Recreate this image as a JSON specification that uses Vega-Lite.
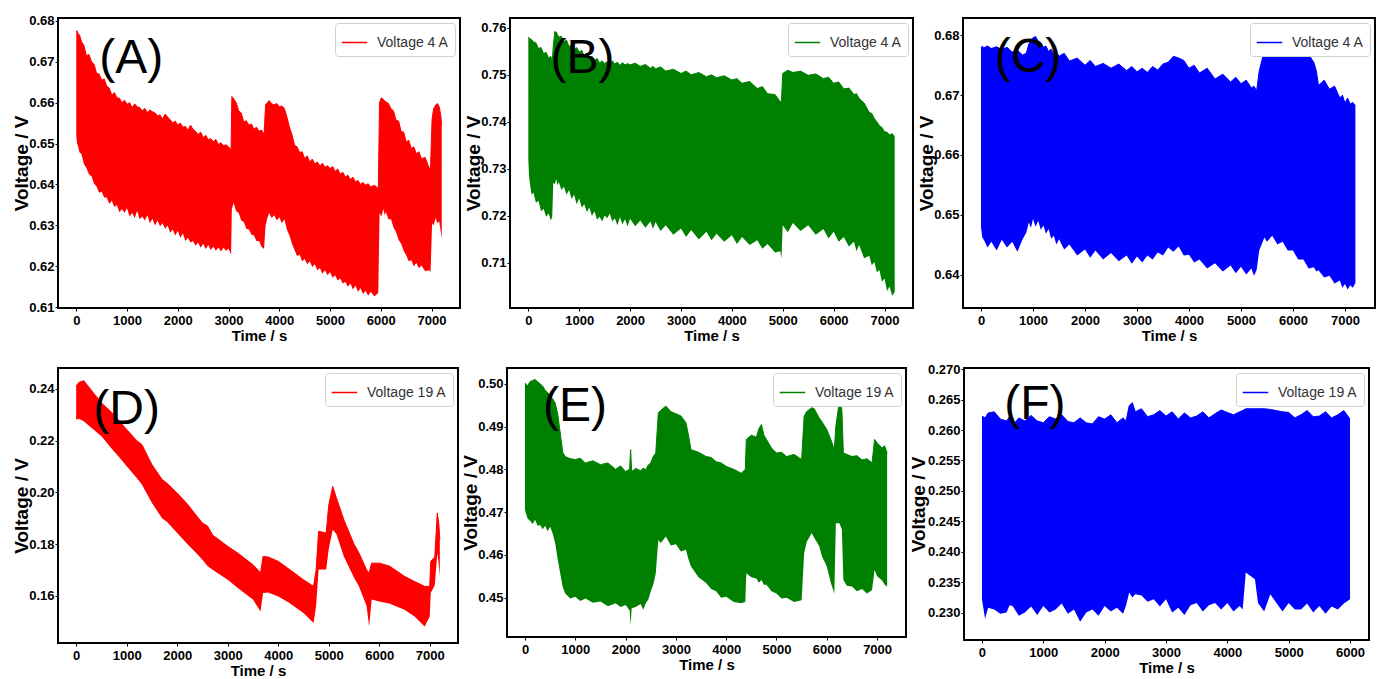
{
"$schema": "https://vega.github.io/schema/vega-lite/v6.json",
"background": "white",
"padding": {"left": 11, "top": 13, "right": 0, "bottom": 0},
"datasets": {
"A": [
{"t":0,"hi":0.6774,"lo":0.6520},{"t":15,"hi":0.6776,"lo":0.6500},{"t":30,"hi":0.6770,"lo":0.6495},{"t":65,"hi":0.6765,"lo":0.6478},{"t":100,"hi":0.6750,"lo":0.6475},{"t":150,"hi":0.6740,"lo":0.6450},{"t":200,"hi":0.6715,"lo":0.6440},{"t":250,"hi":0.6718,"lo":0.6425},{"t":300,"hi":0.6700,"lo":0.6420},{"t":350,"hi":0.6694,"lo":0.6402},{"t":400,"hi":0.6672,"lo":0.6395},{"t":450,"hi":0.6670,"lo":0.6380},{"t":500,"hi":0.6655,"lo":0.6382},{"t":550,"hi":0.6658,"lo":0.6368},{"t":600,"hi":0.6640,"lo":0.6368},{"t":650,"hi":0.6636,"lo":0.6352},{"t":700,"hi":0.6618,"lo":0.6360},{"t":750,"hi":0.6625,"lo":0.6345},{"t":800,"hi":0.6612,"lo":0.6350},{"t":850,"hi":0.6611,"lo":0.6332},{"t":900,"hi":0.6600,"lo":0.6340},{"t":950,"hi":0.6606,"lo":0.6330},{"t":1000,"hi":0.6596,"lo":0.6342},{"t":1050,"hi":0.6600,"lo":0.6322},{"t":1100,"hi":0.6588,"lo":0.6330},{"t":1150,"hi":0.6597,"lo":0.6318},{"t":1200,"hi":0.6590,"lo":0.6335},{"t":1250,"hi":0.6588,"lo":0.6315},{"t":1300,"hi":0.6580,"lo":0.6322},{"t":1350,"hi":0.6586,"lo":0.6312},{"t":1400,"hi":0.6576,"lo":0.6325},{"t":1450,"hi":0.6582,"lo":0.6305},{"t":1500,"hi":0.6578,"lo":0.6316},{"t":1550,"hi":0.6575,"lo":0.6300},{"t":1600,"hi":0.6568,"lo":0.6312},{"t":1650,"hi":0.6570,"lo":0.6298},{"t":1700,"hi":0.6560,"lo":0.6305},{"t":1750,"hi":0.6572,"lo":0.6292},{"t":1800,"hi":0.6565,"lo":0.6300},{"t":1850,"hi":0.6558,"lo":0.6282},{"t":1900,"hi":0.6550,"lo":0.6290},{"t":1950,"hi":0.6555,"lo":0.6275},{"t":2000,"hi":0.6545,"lo":0.6287},{"t":2050,"hi":0.6550,"lo":0.6270},{"t":2100,"hi":0.6540,"lo":0.6280},{"t":2150,"hi":0.6542,"lo":0.6262},{"t":2200,"hi":0.6532,"lo":0.6270},{"t":2250,"hi":0.6545,"lo":0.6258},{"t":2300,"hi":0.6535,"lo":0.6262},{"t":2350,"hi":0.6530,"lo":0.6250},{"t":2400,"hi":0.6522,"lo":0.6258},{"t":2450,"hi":0.6528,"lo":0.6245},{"t":2500,"hi":0.6515,"lo":0.6255},{"t":2550,"hi":0.6520,"lo":0.6242},{"t":2600,"hi":0.6510,"lo":0.6252},{"t":2650,"hi":0.6512,"lo":0.6240},{"t":2700,"hi":0.6505,"lo":0.6248},{"t":2750,"hi":0.6510,"lo":0.6238},{"t":2800,"hi":0.6498,"lo":0.6246},{"t":2850,"hi":0.6502,"lo":0.6236},{"t":2900,"hi":0.6495,"lo":0.6245},{"t":2950,"hi":0.6497,"lo":0.6238},{"t":3000,"hi":0.6492,"lo":0.6243},{"t":3050,"hi":0.6485,"lo":0.6228},{"t":3065,"hi":0.6615,"lo":0.6340},{"t":3100,"hi":0.6610,"lo":0.6355},{"t":3150,"hi":0.6600,"lo":0.6335},{"t":3200,"hi":0.6580,"lo":0.6330},{"t":3250,"hi":0.6575,"lo":0.6312},{"t":3300,"hi":0.6553,"lo":0.6308},{"t":3350,"hi":0.6556,"lo":0.6292},{"t":3400,"hi":0.6545,"lo":0.6290},{"t":3450,"hi":0.6548,"lo":0.6278},{"t":3500,"hi":0.6535,"lo":0.6275},{"t":3550,"hi":0.6540,"lo":0.6262},{"t":3600,"hi":0.6530,"lo":0.6262},{"t":3650,"hi":0.6533,"lo":0.6248},{"t":3700,"hi":0.6522,"lo":0.6242},{"t":3730,"hi":0.6595,"lo":0.6300},{"t":3765,"hi":0.6600,"lo":0.6318},{"t":3800,"hi":0.6605,"lo":0.6330},{"t":3850,"hi":0.6597,"lo":0.6318},{"t":3900,"hi":0.6595,"lo":0.6325},{"t":3950,"hi":0.6598,"lo":0.6312},{"t":4000,"hi":0.6590,"lo":0.6320},{"t":4050,"hi":0.6592,"lo":0.6305},{"t":4100,"hi":0.6586,"lo":0.6315},{"t":4150,"hi":0.6565,"lo":0.6290},{"t":4200,"hi":0.6540,"lo":0.6275},{"t":4250,"hi":0.6522,"lo":0.6255},{"t":4300,"hi":0.6496,"lo":0.6240},{"t":4350,"hi":0.6492,"lo":0.6225},{"t":4400,"hi":0.6478,"lo":0.6228},{"t":4450,"hi":0.6480,"lo":0.6212},{"t":4500,"hi":0.6463,"lo":0.6218},{"t":4550,"hi":0.6470,"lo":0.6205},{"t":4600,"hi":0.6455,"lo":0.6212},{"t":4650,"hi":0.6462,"lo":0.6198},{"t":4700,"hi":0.6450,"lo":0.6205},{"t":4750,"hi":0.6455,"lo":0.6190},{"t":4800,"hi":0.6445,"lo":0.6196},{"t":4850,"hi":0.6452,"lo":0.6182},{"t":4900,"hi":0.6442,"lo":0.6190},{"t":4950,"hi":0.6446,"lo":0.6178},{"t":5000,"hi":0.6439,"lo":0.6186},{"t":5050,"hi":0.6444,"lo":0.6172},{"t":5100,"hi":0.6432,"lo":0.6178},{"t":5150,"hi":0.6438,"lo":0.6165},{"t":5200,"hi":0.6425,"lo":0.6170},{"t":5250,"hi":0.6430,"lo":0.6158},{"t":5300,"hi":0.6418,"lo":0.6162},{"t":5350,"hi":0.6423,"lo":0.6150},{"t":5400,"hi":0.6412,"lo":0.6158},{"t":5450,"hi":0.6418,"lo":0.6143},{"t":5500,"hi":0.6406,"lo":0.6153},{"t":5550,"hi":0.6410,"lo":0.6138},{"t":5600,"hi":0.6400,"lo":0.6146},{"t":5650,"hi":0.6405,"lo":0.6132},{"t":5700,"hi":0.6398,"lo":0.6140},{"t":5750,"hi":0.6402,"lo":0.6128},{"t":5800,"hi":0.6394,"lo":0.6138},{"t":5875,"hi":0.6398,"lo":0.6126},{"t":5950,"hi":0.6390,"lo":0.6135},{"t":5975,"hi":0.6600,"lo":0.6330},{"t":6010,"hi":0.6612,"lo":0.6322},{"t":6050,"hi":0.6608,"lo":0.6340},{"t":6075,"hi":0.6604,"lo":0.6325},{"t":6100,"hi":0.6602,"lo":0.6333},{"t":6150,"hi":0.6598,"lo":0.6315},{"t":6200,"hi":0.6585,"lo":0.6315},{"t":6250,"hi":0.6580,"lo":0.6295},{"t":6300,"hi":0.6557,"lo":0.6284},{"t":6350,"hi":0.6555,"lo":0.6265},{"t":6400,"hi":0.6530,"lo":0.6255},{"t":6450,"hi":0.6528,"lo":0.6238},{"t":6500,"hi":0.6504,"lo":0.6227},{"t":6550,"hi":0.6508,"lo":0.6212},{"t":6600,"hi":0.6488,"lo":0.6215},{"t":6650,"hi":0.6492,"lo":0.6200},{"t":6700,"hi":0.6475,"lo":0.6208},{"t":6750,"hi":0.6480,"lo":0.6195},{"t":6800,"hi":0.6463,"lo":0.6202},{"t":6875,"hi":0.6466,"lo":0.6188},{"t":6950,"hi":0.6440,"lo":0.6190},{"t":6980,"hi":0.6442,"lo":0.6186},{"t":7010,"hi":0.6560,"lo":0.6305},{"t":7040,"hi":0.6585,"lo":0.6300},{"t":7080,"hi":0.6594,"lo":0.6318},{"t":7115,"hi":0.6598,"lo":0.6305},{"t":7150,"hi":0.6590,"lo":0.6310},{"t":7180,"hi":0.6570,"lo":0.6285},{"t":7200,"hi":0.6545,"lo":0.6267}
],
"B": [
{"t":0,"hi":0.7581,"lo":0.7320},{"t":15,"hi":0.7578,"lo":0.7285},{"t":30,"hi":0.7577,"lo":0.7270},{"t":65,"hi":0.7575,"lo":0.7245},{"t":100,"hi":0.7570,"lo":0.7250},{"t":150,"hi":0.7568,"lo":0.7228},{"t":200,"hi":0.7556,"lo":0.7232},{"t":250,"hi":0.7558,"lo":0.7210},{"t":300,"hi":0.7545,"lo":0.7215},{"t":350,"hi":0.7548,"lo":0.7198},{"t":400,"hi":0.7535,"lo":0.7205},{"t":440,"hi":0.7540,"lo":0.7190},{"t":470,"hi":0.7528,"lo":0.7198},{"t":490,"hi":0.7560,"lo":0.7270},{"t":520,"hi":0.7592,"lo":0.7268},{"t":550,"hi":0.7591,"lo":0.7278},{"t":575,"hi":0.7585,"lo":0.7265},{"t":600,"hi":0.7580,"lo":0.7272},{"t":650,"hi":0.7582,"lo":0.7255},{"t":700,"hi":0.7570,"lo":0.7262},{"t":750,"hi":0.7574,"lo":0.7245},{"t":800,"hi":0.7560,"lo":0.7255},{"t":850,"hi":0.7565,"lo":0.7236},{"t":900,"hi":0.7553,"lo":0.7245},{"t":950,"hi":0.7558,"lo":0.7225},{"t":1000,"hi":0.7549,"lo":0.7237},{"t":1050,"hi":0.7552,"lo":0.7218},{"t":1100,"hi":0.7540,"lo":0.7225},{"t":1150,"hi":0.7546,"lo":0.7208},{"t":1200,"hi":0.7535,"lo":0.7218},{"t":1250,"hi":0.7540,"lo":0.7200},{"t":1300,"hi":0.7530,"lo":0.7210},{"t":1350,"hi":0.7535,"lo":0.7192},{"t":1400,"hi":0.7525,"lo":0.7198},{"t":1450,"hi":0.7530,"lo":0.7188},{"t":1500,"hi":0.7524,"lo":0.7201},{"t":1550,"hi":0.7528,"lo":0.7195},{"t":1600,"hi":0.7522,"lo":0.7205},{"t":1650,"hi":0.7530,"lo":0.7188},{"t":1700,"hi":0.7523,"lo":0.7195},{"t":1750,"hi":0.7527,"lo":0.7180},{"t":1800,"hi":0.7520,"lo":0.7197},{"t":1850,"hi":0.7526,"lo":0.7182},{"t":1900,"hi":0.7521,"lo":0.7193},{"t":1950,"hi":0.7524,"lo":0.7178},{"t":2000,"hi":0.7521,"lo":0.7194},{"t":2100,"hi":0.7525,"lo":0.7178},{"t":2200,"hi":0.7518,"lo":0.7190},{"t":2300,"hi":0.7522,"lo":0.7175},{"t":2400,"hi":0.7514,"lo":0.7188},{"t":2450,"hi":0.7518,"lo":0.7172},{"t":2500,"hi":0.7513,"lo":0.7187},{"t":2600,"hi":0.7517,"lo":0.7168},{"t":2700,"hi":0.7508,"lo":0.7180},{"t":2850,"hi":0.7512,"lo":0.7160},{"t":3000,"hi":0.7503,"lo":0.7173},{"t":3100,"hi":0.7508,"lo":0.7155},{"t":3200,"hi":0.7500,"lo":0.7170},{"t":3350,"hi":0.7505,"lo":0.7150},{"t":3500,"hi":0.7496,"lo":0.7166},{"t":3600,"hi":0.7500,"lo":0.7148},{"t":3700,"hi":0.7494,"lo":0.7162},{"t":3850,"hi":0.7498,"lo":0.7145},{"t":4000,"hi":0.7489,"lo":0.7159},{"t":4100,"hi":0.7492,"lo":0.7140},{"t":4200,"hi":0.7482,"lo":0.7155},{"t":4350,"hi":0.7486,"lo":0.7138},{"t":4500,"hi":0.7471,"lo":0.7148},{"t":4600,"hi":0.7475,"lo":0.7130},{"t":4700,"hi":0.7460,"lo":0.7140},{"t":4850,"hi":0.7458,"lo":0.7122},{"t":4950,"hi":0.7443,"lo":0.7125},{"t":4975,"hi":0.7445,"lo":0.7110},{"t":5000,"hi":0.7503,"lo":0.7180},{"t":5100,"hi":0.7510,"lo":0.7165},{"t":5200,"hi":0.7505,"lo":0.7185},{"t":5350,"hi":0.7508,"lo":0.7168},{"t":5500,"hi":0.7499,"lo":0.7180},{"t":5650,"hi":0.7502,"lo":0.7160},{"t":5800,"hi":0.7492,"lo":0.7172},{"t":5900,"hi":0.7495,"lo":0.7152},{"t":6000,"hi":0.7482,"lo":0.7166},{"t":6100,"hi":0.7485,"lo":0.7145},{"t":6200,"hi":0.7470,"lo":0.7155},{"t":6300,"hi":0.7472,"lo":0.7135},{"t":6400,"hi":0.7458,"lo":0.7145},{"t":6450,"hi":0.7460,"lo":0.7125},{"t":6500,"hi":0.7450,"lo":0.7138},{"t":6600,"hi":0.7440,"lo":0.7110},{"t":6700,"hi":0.7420,"lo":0.7115},{"t":6750,"hi":0.7418,"lo":0.7095},{"t":6800,"hi":0.7407,"lo":0.7102},{"t":6850,"hi":0.7400,"lo":0.7080},{"t":6900,"hi":0.7392,"lo":0.7085},{"t":6950,"hi":0.7388,"lo":0.7060},{"t":7000,"hi":0.7379,"lo":0.7067},{"t":7050,"hi":0.7378,"lo":0.7040},{"t":7100,"hi":0.7372,"lo":0.7050},{"t":7150,"hi":0.7375,"lo":0.7030},{"t":7200,"hi":0.7368,"lo":0.7038}
],
"C": [
{"t":0,"hi":0.6779,"lo":0.6479},{"t":25,"hi":0.6782,"lo":0.6462},{"t":50,"hi":0.6779,"lo":0.6459},{"t":125,"hi":0.6782,"lo":0.6445},{"t":200,"hi":0.6778,"lo":0.6455},{"t":300,"hi":0.6781,"lo":0.6440},{"t":400,"hi":0.6776,"lo":0.6458},{"t":500,"hi":0.6780,"lo":0.6445},{"t":600,"hi":0.6772,"lo":0.6455},{"t":700,"hi":0.6775,"lo":0.6438},{"t":800,"hi":0.6767,"lo":0.6459},{"t":870,"hi":0.6770,"lo":0.6470},{"t":920,"hi":0.6785,"lo":0.6487},{"t":960,"hi":0.6792,"lo":0.6478},{"t":1000,"hi":0.6796,"lo":0.6493},{"t":1050,"hi":0.6798,"lo":0.6480},{"t":1100,"hi":0.6790,"lo":0.6490},{"t":1150,"hi":0.6788,"lo":0.6475},{"t":1200,"hi":0.6780,"lo":0.6482},{"t":1250,"hi":0.6782,"lo":0.6468},{"t":1300,"hi":0.6773,"lo":0.6476},{"t":1350,"hi":0.6777,"lo":0.6460},{"t":1400,"hi":0.6768,"lo":0.6465},{"t":1450,"hi":0.6772,"lo":0.6450},{"t":1500,"hi":0.6765,"lo":0.6459},{"t":1600,"hi":0.6770,"lo":0.6442},{"t":1700,"hi":0.6757,"lo":0.6450},{"t":1850,"hi":0.6762,"lo":0.6432},{"t":2000,"hi":0.6750,"lo":0.6442},{"t":2100,"hi":0.6758,"lo":0.6428},{"t":2200,"hi":0.6748,"lo":0.6440},{"t":2350,"hi":0.6753,"lo":0.6425},{"t":2500,"hi":0.6745,"lo":0.6436},{"t":2650,"hi":0.6752,"lo":0.6422},{"t":2800,"hi":0.6741,"lo":0.6432},{"t":2900,"hi":0.6748,"lo":0.6418},{"t":3000,"hi":0.6739,"lo":0.6430},{"t":3100,"hi":0.6745,"lo":0.6420},{"t":3200,"hi":0.6738,"lo":0.6432},{"t":3300,"hi":0.6748,"lo":0.6425},{"t":3400,"hi":0.6742,"lo":0.6437},{"t":3500,"hi":0.6752,"lo":0.6432},{"t":3600,"hi":0.6755,"lo":0.6445},{"t":3700,"hi":0.6765,"lo":0.6438},{"t":3800,"hi":0.6762,"lo":0.6447},{"t":3900,"hi":0.6758,"lo":0.6432},{"t":4000,"hi":0.6745,"lo":0.6433},{"t":4100,"hi":0.6750,"lo":0.6420},{"t":4200,"hi":0.6737,"lo":0.6425},{"t":4350,"hi":0.6745,"lo":0.6410},{"t":4500,"hi":0.6727,"lo":0.6419},{"t":4650,"hi":0.6735,"lo":0.6405},{"t":4800,"hi":0.6722,"lo":0.6415},{"t":4900,"hi":0.6730,"lo":0.6402},{"t":5000,"hi":0.6719,"lo":0.6413},{"t":5100,"hi":0.6725,"lo":0.6400},{"t":5200,"hi":0.6712,"lo":0.6410},{"t":5250,"hi":0.6715,"lo":0.6398},{"t":5300,"hi":0.6707,"lo":0.6407},{"t":5350,"hi":0.6740,"lo":0.6440},{"t":5450,"hi":0.6775,"lo":0.6462},{"t":5500,"hi":0.6778,"lo":0.6455},{"t":5600,"hi":0.6778,"lo":0.6465},{"t":5700,"hi":0.6779,"lo":0.6450},{"t":5800,"hi":0.6776,"lo":0.6455},{"t":5900,"hi":0.6777,"lo":0.6440},{"t":6000,"hi":0.6772,"lo":0.6440},{"t":6100,"hi":0.6774,"lo":0.6425},{"t":6200,"hi":0.6765,"lo":0.6425},{"t":6300,"hi":0.6768,"lo":0.6410},{"t":6400,"hi":0.6755,"lo":0.6412},{"t":6450,"hi":0.6740,"lo":0.6405},{"t":6490,"hi":0.6716,"lo":0.6407},{"t":6600,"hi":0.6725,"lo":0.6395},{"t":6700,"hi":0.6710,"lo":0.6398},{"t":6800,"hi":0.6715,"lo":0.6385},{"t":6900,"hi":0.6695,"lo":0.6390},{"t":6950,"hi":0.6700,"lo":0.6378},{"t":7000,"hi":0.6687,"lo":0.6384},{"t":7050,"hi":0.6695,"lo":0.6375},{"t":7100,"hi":0.6685,"lo":0.6382},{"t":7150,"hi":0.6688,"lo":0.6378},{"t":7200,"hi":0.6682,"lo":0.6386}
],
"D": [
{"t":0,"hi":0.2410,"lo":0.2281},{"t":50,"hi":0.2425,"lo":0.2285},{"t":150,"hi":0.2432,"lo":0.2275},{"t":300,"hi":0.2395,"lo":0.2250},{"t":500,"hi":0.2346,"lo":0.2217},{"t":700,"hi":0.2310,"lo":0.2170},{"t":900,"hi":0.2265,"lo":0.2125},{"t":1000,"hi":0.2243,"lo":0.2101},{"t":1200,"hi":0.2200,"lo":0.2055},{"t":1300,"hi":0.2185,"lo":0.2030},{"t":1500,"hi":0.2107,"lo":0.1959},{"t":1700,"hi":0.2050,"lo":0.1900},{"t":1800,"hi":0.2035,"lo":0.1885},{"t":2000,"hi":0.1997,"lo":0.1843},{"t":2200,"hi":0.1955,"lo":0.1800},{"t":2400,"hi":0.1905,"lo":0.1760},{"t":2500,"hi":0.1881,"lo":0.1739},{"t":2600,"hi":0.1870,"lo":0.1715},{"t":2700,"hi":0.1835,"lo":0.1700},{"t":3000,"hi":0.1791,"lo":0.1662},{"t":3200,"hi":0.1765,"lo":0.1630},{"t":3500,"hi":0.1720,"lo":0.1585},{"t":3650,"hi":0.1688,"lo":0.1539},{"t":3700,"hi":0.1752,"lo":0.1610},{"t":3800,"hi":0.1750,"lo":0.1612},{"t":4000,"hi":0.1733,"lo":0.1597},{"t":4200,"hi":0.1705,"lo":0.1575},{"t":4500,"hi":0.1662,"lo":0.1533},{"t":4700,"hi":0.1636,"lo":0.1494},{"t":4750,"hi":0.1700,"lo":0.1560},{"t":4800,"hi":0.1849,"lo":0.1701},{"t":4950,"hi":0.1843,"lo":0.1701},{"t":5000,"hi":0.1950,"lo":0.1780},{"t":5080,"hi":0.2023,"lo":0.1855},{"t":5150,"hi":0.1980,"lo":0.1840},{"t":5300,"hi":0.1894,"lo":0.1752},{"t":5500,"hi":0.1800,"lo":0.1670},{"t":5600,"hi":0.1765,"lo":0.1636},{"t":5750,"hi":0.1700,"lo":0.1560},{"t":5800,"hi":0.1688,"lo":0.1481},{"t":5850,"hi":0.1726,"lo":0.1585},{"t":6000,"hi":0.1726,"lo":0.1578},{"t":6200,"hi":0.1715,"lo":0.1570},{"t":6500,"hi":0.1675,"lo":0.1546},{"t":6700,"hi":0.1655,"lo":0.1520},{"t":6900,"hi":0.1636,"lo":0.1481},{"t":7000,"hi":0.1636,"lo":0.1520},{"t":7020,"hi":0.1733,"lo":0.1610},{"t":7100,"hi":0.1750,"lo":0.1640},{"t":7150,"hi":0.1920,"lo":0.1765},{"t":7180,"hi":0.1880,"lo":0.1720},{"t":7200,"hi":0.1817,"lo":0.1675}
],
"E": [
{"t":0,"hi":0.5002,"lo":0.4705},{"t":50,"hi":0.4995,"lo":0.4685},{"t":100,"hi":0.5005,"lo":0.4680},{"t":150,"hi":0.5008,"lo":0.4672},{"t":200,"hi":0.5010,"lo":0.4682},{"t":250,"hi":0.5005,"lo":0.4668},{"t":300,"hi":0.5000,"lo":0.4670},{"t":350,"hi":0.4995,"lo":0.4660},{"t":400,"hi":0.4985,"lo":0.4668},{"t":450,"hi":0.4980,"lo":0.4655},{"t":500,"hi":0.4971,"lo":0.4666},{"t":550,"hi":0.4965,"lo":0.4650},{"t":600,"hi":0.4955,"lo":0.4627},{"t":650,"hi":0.4930,"lo":0.4590},{"t":700,"hi":0.4885,"lo":0.4557},{"t":750,"hi":0.4840,"lo":0.4525},{"t":800,"hi":0.4830,"lo":0.4510},{"t":900,"hi":0.4825,"lo":0.4498},{"t":1000,"hi":0.4823,"lo":0.4502},{"t":1100,"hi":0.4826,"lo":0.4492},{"t":1200,"hi":0.4815,"lo":0.4498},{"t":1350,"hi":0.4820,"lo":0.4488},{"t":1500,"hi":0.4811,"lo":0.4491},{"t":1650,"hi":0.4815,"lo":0.4480},{"t":1800,"hi":0.4800,"lo":0.4487},{"t":1900,"hi":0.4808,"lo":0.4478},{"t":2000,"hi":0.4795,"lo":0.4483},{"t":2080,"hi":0.4800,"lo":0.4470},{"t":2100,"hi":0.4846,"lo":0.4436},{"t":2120,"hi":0.4795,"lo":0.4475},{"t":2200,"hi":0.4802,"lo":0.4478},{"t":2300,"hi":0.4797,"lo":0.4485},{"t":2350,"hi":0.4803,"lo":0.4472},{"t":2400,"hi":0.4799,"lo":0.4487},{"t":2450,"hi":0.4810,"lo":0.4495},{"t":2500,"hi":0.4815,"lo":0.4515},{"t":2550,"hi":0.4830,"lo":0.4530},{"t":2600,"hi":0.4838,"lo":0.4557},{"t":2650,"hi":0.4932,"lo":0.4635},{"t":2700,"hi":0.4938,"lo":0.4628},{"t":2800,"hi":0.4948,"lo":0.4643},{"t":2900,"hi":0.4935,"lo":0.4622},{"t":3000,"hi":0.4930,"lo":0.4625},{"t":3100,"hi":0.4925,"lo":0.4608},{"t":3200,"hi":0.4909,"lo":0.4612},{"t":3250,"hi":0.4880,"lo":0.4590},{"t":3300,"hi":0.4846,"lo":0.4573},{"t":3450,"hi":0.4840,"lo":0.4548},{"t":3600,"hi":0.4830,"lo":0.4534},{"t":3700,"hi":0.4828,"lo":0.4520},{"t":3800,"hi":0.4818,"lo":0.4515},{"t":3900,"hi":0.4815,"lo":0.4500},{"t":4000,"hi":0.4807,"lo":0.4502},{"t":4150,"hi":0.4800,"lo":0.4490},{"t":4300,"hi":0.4791,"lo":0.4487},{"t":4380,"hi":0.4800,"lo":0.4490},{"t":4400,"hi":0.4870,"lo":0.4557},{"t":4500,"hi":0.4880,"lo":0.4548},{"t":4600,"hi":0.4875,"lo":0.4545},{"t":4650,"hi":0.4895,"lo":0.4535},{"t":4700,"hi":0.4905,"lo":0.4541},{"t":4750,"hi":0.4880,"lo":0.4530},{"t":4800,"hi":0.4870,"lo":0.4530},{"t":4900,"hi":0.4850,"lo":0.4515},{"t":5000,"hi":0.4838,"lo":0.4510},{"t":5100,"hi":0.4840,"lo":0.4498},{"t":5200,"hi":0.4830,"lo":0.4500},{"t":5350,"hi":0.4835,"lo":0.4490},{"t":5500,"hi":0.4823,"lo":0.4494},{"t":5550,"hi":0.4924,"lo":0.4604},{"t":5600,"hi":0.4935,"lo":0.4630},{"t":5700,"hi":0.4944,"lo":0.4651},{"t":5750,"hi":0.4942,"lo":0.4640},{"t":5850,"hi":0.4920,"lo":0.4620},{"t":5900,"hi":0.4912,"lo":0.4598},{"t":6000,"hi":0.4893,"lo":0.4573},{"t":6080,"hi":0.4870,"lo":0.4535},{"t":6150,"hi":0.4846,"lo":0.4510},{"t":6180,"hi":0.4900,"lo":0.4674},{"t":6250,"hi":0.4960,"lo":0.4674},{"t":6300,"hi":0.4940,"lo":0.4660},{"t":6330,"hi":0.4838,"lo":0.4541},{"t":6400,"hi":0.4835,"lo":0.4528},{"t":6500,"hi":0.4830,"lo":0.4526},{"t":6600,"hi":0.4832,"lo":0.4515},{"t":6700,"hi":0.4822,"lo":0.4520},{"t":6800,"hi":0.4825,"lo":0.4510},{"t":6900,"hi":0.4815,"lo":0.4518},{"t":6950,"hi":0.4870,"lo":0.4565},{"t":7000,"hi":0.4862,"lo":0.4550},{"t":7100,"hi":0.4850,"lo":0.4540},{"t":7150,"hi":0.4855,"lo":0.4530},{"t":7200,"hi":0.4838,"lo":0.4526}
],
"F": [
{"t":0,"hi":0.2623,"lo":0.2322},{"t":50,"hi":0.2620,"lo":0.2290},{"t":100,"hi":0.2628,"lo":0.2308},{"t":200,"hi":0.2630,"lo":0.2305},{"t":300,"hi":0.2618,"lo":0.2298},{"t":400,"hi":0.2615,"lo":0.2300},{"t":450,"hi":0.2622,"lo":0.2312},{"t":500,"hi":0.2607,"lo":0.2311},{"t":600,"hi":0.2620,"lo":0.2295},{"t":700,"hi":0.2615,"lo":0.2300},{"t":800,"hi":0.2624,"lo":0.2310},{"t":900,"hi":0.2615,"lo":0.2296},{"t":1000,"hi":0.2612,"lo":0.2311},{"t":1100,"hi":0.2622,"lo":0.2300},{"t":1200,"hi":0.2618,"lo":0.2305},{"t":1300,"hi":0.2625,"lo":0.2315},{"t":1400,"hi":0.2614,"lo":0.2298},{"t":1500,"hi":0.2612,"lo":0.2305},{"t":1600,"hi":0.2620,"lo":0.2285},{"t":1700,"hi":0.2612,"lo":0.2300},{"t":1800,"hi":0.2610,"lo":0.2305},{"t":1900,"hi":0.2622,"lo":0.2295},{"t":2000,"hi":0.2618,"lo":0.2311},{"t":2100,"hi":0.2625,"lo":0.2302},{"t":2200,"hi":0.2612,"lo":0.2308},{"t":2300,"hi":0.2620,"lo":0.2298},{"t":2350,"hi":0.2615,"lo":0.2312},{"t":2400,"hi":0.2640,"lo":0.2333},{"t":2450,"hi":0.2645,"lo":0.2325},{"t":2500,"hi":0.2630,"lo":0.2330},{"t":2600,"hi":0.2635,"lo":0.2328},{"t":2700,"hi":0.2622,"lo":0.2318},{"t":2800,"hi":0.2625,"lo":0.2322},{"t":2900,"hi":0.2632,"lo":0.2310},{"t":3000,"hi":0.2623,"lo":0.2322},{"t":3100,"hi":0.2630,"lo":0.2300},{"t":3200,"hi":0.2618,"lo":0.2308},{"t":3300,"hi":0.2628,"lo":0.2296},{"t":3400,"hi":0.2620,"lo":0.2312},{"t":3500,"hi":0.2623,"lo":0.2316},{"t":3600,"hi":0.2630,"lo":0.2302},{"t":3700,"hi":0.2620,"lo":0.2312},{"t":3800,"hi":0.2627,"lo":0.2316},{"t":3900,"hi":0.2633,"lo":0.2305},{"t":4000,"hi":0.2629,"lo":0.2316},{"t":4100,"hi":0.2625,"lo":0.2302},{"t":4200,"hi":0.2630,"lo":0.2311},{"t":4250,"hi":0.2632,"lo":0.2305},{"t":4300,"hi":0.2635,"lo":0.2366},{"t":4450,"hi":0.2635,"lo":0.2355},{"t":4500,"hi":0.2635,"lo":0.2316},{"t":4600,"hi":0.2635,"lo":0.2302},{"t":4700,"hi":0.2634,"lo":0.2330},{"t":4800,"hi":0.2632,"lo":0.2316},{"t":4900,"hi":0.2630,"lo":0.2302},{"t":5000,"hi":0.2629,"lo":0.2316},{"t":5100,"hi":0.2620,"lo":0.2305},{"t":5200,"hi":0.2625,"lo":0.2305},{"t":5300,"hi":0.2632,"lo":0.2315},{"t":5400,"hi":0.2622,"lo":0.2300},{"t":5500,"hi":0.2623,"lo":0.2311},{"t":5600,"hi":0.2630,"lo":0.2298},{"t":5700,"hi":0.2620,"lo":0.2310},{"t":5800,"hi":0.2625,"lo":0.2305},{"t":5900,"hi":0.2632,"lo":0.2315},{"t":6000,"hi":0.2618,"lo":0.2322}
],
"labels": [{"label": "(A)"}, {"label": "(B)"}, {"label": "(C)"}, {"label": "(D)"}, {"label": "(E)"}, {"label": "(F)"}]
},
"vconcat": [
{"hconcat": [
{"width": 402, "height": 290,
 "layer": [
  {"data": {"name": "A"}, "mark": {"type": "area", "color": "#ff0000", "clip": true}, "encoding": {
   "x": {"field": "t", "type": "quantitative", "scale": {"domain": [-360, 7560], "nice": false, "zero": false}, "axis": {"values": [0,1000,2000,3000,4000,5000,6000,7000], "format": "d", "title": "Time / s"}},
   "y": {"field": "hi", "type": "quantitative", "scale": {"domain": [0.6098, 0.6807], "nice": false, "zero": false}, "axis": {"values": [0.61,0.62,0.63,0.64,0.65,0.66,0.67,0.68], "format": ".2f", "title": "Voltage / V"}},
   "y2": {"field": "lo"}}},
  {"data": {"name": "A"}, "mark": {"type": "line", "strokeWidth": 1, "clip": true}, "encoding": {"x": {"field": "t", "type": "quantitative"}, "y": {"field": "hi", "type": "quantitative"}, "stroke": {"datum": "Voltage 4 A", "type": "nominal", "scale": {"range": ["#ff0000"]}, "legend": {"title": null}}}},
  {"data": {"name": "labels"}, "transform": [{"filter": "datum.label == '(A)'"}], "mark": {"type": "text", "fontSize": 48, "font": "Liberation Sans", "align": "center", "baseline": "middle", "color": "black"}, "encoding": {"x": {"datum": 1085, "type": "quantitative"}, "y": {"datum": 0.6707, "type": "quantitative"}, "text": {"field": "label"}}}
 ]},
{"width": 403, "height": 290,
 "layer": [
  {"data": {"name": "B"}, "mark": {"type": "area", "color": "#008000", "clip": true}, "encoding": {
   "x": {"field": "t", "type": "quantitative", "scale": {"domain": [-360, 7560], "nice": false, "zero": false}, "axis": {"values": [0,1000,2000,3000,4000,5000,6000,7000], "format": "d", "title": "Time / s"}},
   "y": {"field": "hi", "type": "quantitative", "scale": {"domain": [0.7004, 0.7621], "nice": false, "zero": false}, "axis": {"values": [0.71,0.72,0.73,0.74,0.75,0.76], "format": ".2f", "title": "Voltage / V"}},
   "y2": {"field": "lo"}}},
  {"data": {"name": "B"}, "mark": {"type": "line", "strokeWidth": 1, "clip": true}, "encoding": {"x": {"field": "t", "type": "quantitative"}, "y": {"field": "hi", "type": "quantitative"}, "stroke": {"datum": "Voltage 4 A", "type": "nominal", "scale": {"range": ["#008000"]}, "legend": {"title": null}}}},
  {"data": {"name": "labels"}, "transform": [{"filter": "datum.label == '(B)'"}], "mark": {"type": "text", "fontSize": 48, "font": "Liberation Sans", "align": "center", "baseline": "middle", "color": "black"}, "encoding": {"x": {"datum": 1065, "type": "quantitative"}, "y": {"datum": 0.7534, "type": "quantitative"}, "text": {"field": "label"}}}
 ]},
{"width": 412, "height": 290,
 "layer": [
  {"data": {"name": "C"}, "mark": {"type": "area", "color": "#0000ff", "clip": true}, "encoding": {
   "x": {"field": "t", "type": "quantitative", "scale": {"domain": [-346, 7577], "nice": false, "zero": false}, "axis": {"values": [0,1000,2000,3000,4000,5000,6000,7000], "format": "d", "title": "Time / s"}},
   "y": {"field": "hi", "type": "quantitative", "scale": {"domain": [0.6344, 0.6829], "nice": false, "zero": false}, "axis": {"values": [0.64,0.65,0.66,0.67,0.68], "format": ".2f", "title": "Voltage / V"}},
   "y2": {"field": "lo"}}},
  {"data": {"name": "C"}, "mark": {"type": "line", "strokeWidth": 1, "clip": true}, "encoding": {"x": {"field": "t", "type": "quantitative"}, "y": {"field": "hi", "type": "quantitative"}, "stroke": {"datum": "Voltage 4 A", "type": "nominal", "scale": {"range": ["#0000ff"]}, "legend": {"title": null}}}},
  {"data": {"name": "labels"}, "transform": [{"filter": "datum.label == '(C)'"}], "mark": {"type": "text", "fontSize": 48, "font": "Liberation Sans", "align": "center", "baseline": "middle", "color": "black"}, "encoding": {"x": {"datum": 904, "type": "quantitative"}, "y": {"datum": 0.6762, "type": "quantitative"}, "text": {"field": "label"}}}
 ]}
], "spacing": 2, "resolve": {"scale": {"x": "independent", "y": "independent", "stroke": "independent"}}},
{"hconcat": [
{"width": 400, "height": 275,
 "layer": [
  {"data": {"name": "D"}, "mark": {"type": "area", "color": "#ff0000", "clip": true}, "encoding": {
   "x": {"field": "t", "type": "quantitative", "scale": {"domain": [-360, 7560], "nice": false, "zero": false}, "axis": {"values": [0,1000,2000,3000,4000,5000,6000,7000], "format": "d", "title": "Time / s"}},
   "y": {"field": "hi", "type": "quantitative", "scale": {"domain": [0.1417, 0.2481], "nice": false, "zero": false}, "axis": {"values": [0.16,0.18,0.20,0.22,0.24], "format": ".2f", "title": "Voltage / V"}},
   "y2": {"field": "lo"}}},
  {"data": {"name": "D"}, "mark": {"type": "line", "strokeWidth": 1, "clip": true}, "encoding": {"x": {"field": "t", "type": "quantitative"}, "y": {"field": "hi", "type": "quantitative"}, "stroke": {"datum": "Voltage 19 A", "type": "nominal", "scale": {"range": ["#ff0000"]}, "legend": {"title": null}}}},
  {"data": {"name": "labels"}, "transform": [{"filter": "datum.label == '(D)'"}], "mark": {"type": "text", "fontSize": 48, "font": "Liberation Sans", "align": "center", "baseline": "middle", "color": "black"}, "encoding": {"x": {"datum": 1000, "type": "quantitative"}, "y": {"datum": 0.2320, "type": "quantitative"}, "text": {"field": "label"}}}
 ]},
{"width": 399, "height": 269,
 "layer": [
  {"data": {"name": "E"}, "mark": {"type": "area", "color": "#008000", "clip": true}, "encoding": {
   "x": {"field": "t", "type": "quantitative", "scale": {"domain": [-358, 7575], "nice": false, "zero": false}, "axis": {"values": [0,1000,2000,3000,4000,5000,6000,7000], "format": "d", "title": "Time / s"}},
   "y": {"field": "hi", "type": "quantitative", "scale": {"domain": [0.4408, 0.5037], "nice": false, "zero": false}, "axis": {"values": [0.45,0.46,0.47,0.48,0.49,0.50], "format": ".2f", "title": "Voltage / V"}},
   "y2": {"field": "lo"}}},
  {"data": {"name": "E"}, "mark": {"type": "line", "strokeWidth": 1, "clip": true}, "encoding": {"x": {"field": "t", "type": "quantitative"}, "y": {"field": "hi", "type": "quantitative"}, "stroke": {"datum": "Voltage 19 A", "type": "nominal", "scale": {"range": ["#008000"]}, "legend": {"title": null}}}},
  {"data": {"name": "labels"}, "transform": [{"filter": "datum.label == '(E)'"}], "mark": {"type": "text", "fontSize": 48, "font": "Liberation Sans", "align": "center", "baseline": "middle", "color": "black"}, "encoding": {"x": {"datum": 994, "type": "quantitative"}, "y": {"datum": 0.4945, "type": "quantitative"}, "text": {"field": "label"}}}
 ]},
{"width": 405, "height": 272,
 "layer": [
  {"data": {"name": "F"}, "mark": {"type": "area", "color": "#0000ff", "clip": true}, "encoding": {
   "x": {"field": "t", "type": "quantitative", "scale": {"domain": [-293, 6309], "nice": false, "zero": false}, "axis": {"values": [0,1000,2000,3000,4000,5000,6000], "format": "d", "title": "Time / s"}},
   "y": {"field": "hi", "type": "quantitative", "scale": {"domain": [0.2255, 0.2702], "nice": false, "zero": false}, "axis": {"values": [0.230,0.235,0.240,0.245,0.250,0.255,0.260,0.265,0.270], "format": ".3f", "title": "Voltage / V", "minExtent": 36, "maxExtent": 36}},
   "y2": {"field": "lo"}}},
  {"data": {"name": "F"}, "mark": {"type": "line", "strokeWidth": 1, "clip": true}, "encoding": {"x": {"field": "t", "type": "quantitative"}, "y": {"field": "hi", "type": "quantitative", "axis": {"values": [0.230,0.235,0.240,0.245,0.250,0.255,0.260,0.265,0.270], "format": ".3f", "title": "Voltage / V", "minExtent": 36, "maxExtent": 36}}, "stroke": {"datum": "Voltage 19 A", "type": "nominal", "scale": {"range": ["#0000ff"]}, "legend": {"title": null}}}},
  {"data": {"name": "labels"}, "transform": [{"filter": "datum.label == '(F)'"}], "mark": {"type": "text", "fontSize": 48, "font": "Liberation Sans", "align": "center", "baseline": "middle", "color": "black"}, "encoding": {"x": {"datum": 862, "type": "quantitative"}, "y": {"datum": 0.2642, "type": "quantitative", "axis": {"values": [0.230,0.235,0.240,0.245,0.250,0.255,0.260,0.265,0.270], "format": ".3f", "title": "Voltage / V", "minExtent": 36, "maxExtent": 36}}, "text": {"field": "label"}}}
 ]}
], "spacing": 1, "resolve": {"scale": {"x": "independent", "y": "independent", "stroke": "independent"}}}
],
"spacing": 18,
"resolve": {"scale": {"x": "independent", "y": "independent", "stroke": "independent"}},
"config": {
 "view": {"stroke": "black", "strokeWidth": 2},
 "axis": {"domain": false, "ticks": true, "tickSize": 3, "tickColor": "black", "tickWidth": 1, "grid": false, "labelOverlap": false, "labelFont": "Liberation Sans", "labelFontWeight": "bold", "labelFontSize": 13, "labelColor": "black", "titleFont": "Liberation Sans", "titleFontWeight": "bold", "titleColor": "black"},
 "axisX": {"labelPadding": 3, "titleFontSize": 15, "titlePadding": 1},
 "axisY": {"labelPadding": 1, "titleFontSize": 19, "titlePadding": 0, "minExtent": 27, "maxExtent": 27},
 "legend": {"orient": "top-right", "offset": 5, "fillColor": "white", "strokeColor": "#d0d0d0", "cornerRadius": 3, "padding": 6, "labelFont": "Liberation Sans", "labelFontSize": 14, "labelColor": "#333333", "symbolType": "stroke", "symbolSize": 650, "symbolStrokeWidth": 1.5, "labelOffset": 9}
}
}
